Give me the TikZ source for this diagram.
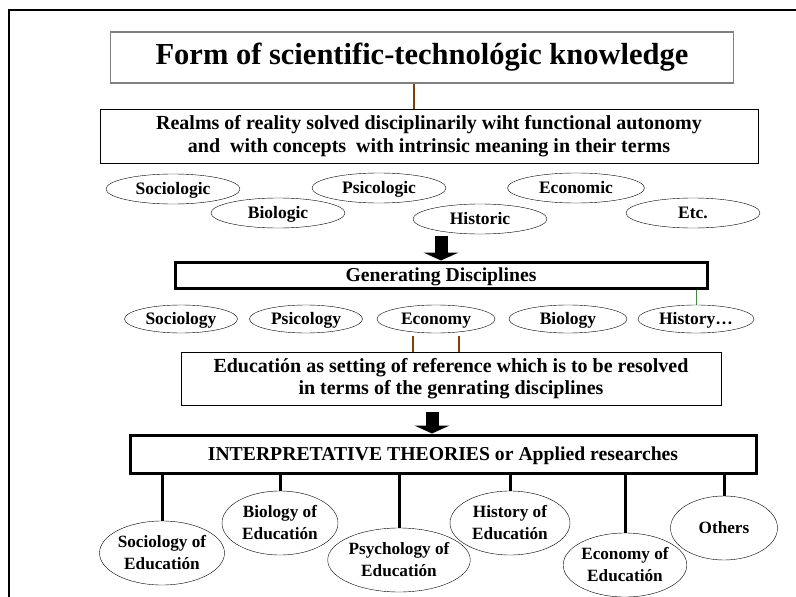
\documentclass[tikz,border=0pt]{standalone}
\usepackage{fontspec}
\setmainfont{Liberation Serif}
\usetikzlibrary{shapes.geometric,arrows.meta}
\definecolor{linkbrown}{RGB}{128,64,0}
\definecolor{linkgreen}{RGB}{60,140,60}
\tikzset{
  realm/.style={draw,ellipse,inner sep=0pt,minimum width=134pt,minimum height=30pt,text height=12pt,text depth=0.5pt,font=\fontsize{17.5}{19}\selectfont\bfseries},
  discipline/.style={draw,ellipse,inner sep=0pt,minimum width=114pt,minimum height=28pt,text height=12pt,text depth=0.5pt,font=\fontsize{17.5}{19}\selectfont\bfseries},
  field/.style={draw,ellipse,inner sep=0pt,minimum width=120pt,minimum height=64pt,align=center,font=\fontsize{17.2}{22}\selectfont\bfseries},
  plainbox/.style={draw,rectangle,inner sep=0pt,align=center,fill=white,font=\fontsize{20}{22.5}\selectfont\bfseries},
  heavybox/.style={draw,rectangle,line width=3pt,inner sep=0pt,text height=13.5pt,text depth=0.5pt,font=\fontsize{19.7}{21}\selectfont\bfseries},
  blockarrow/.style={line width=13pt,-{Triangle[width=35pt,length=8pt]}},
  stem/.style={line width=3pt},
}
\begin{document}
\begin{tikzpicture}[x=1pt,y=-1pt]
  \useasboundingbox (0,0) rectangle (796,597);
  \draw[line width=2pt] (9,597) -- (9,10) -- (796,10);

  \node[plainbox,draw=gray,line width=1.5pt,minimum width=623,minimum height=51,
        font=\fontsize{30.5}{34}\selectfont\bfseries] (title) at (422,57.5)
        {Form of scientific-technológic knowledge};
  \node[plainbox,minimum width=658,minimum height=54] (realms) at (429,136)
        {Realms of reality solved disciplinarily wiht functional autonomy\\
         and\ \ with concepts\ \ with intrinsic meaning in their terms};

  \node[realm] (sociologic) at (173,189) {Sociologic};
  \node[realm] (biologic) at (278,213) {Biologic};
  \node[realm] (psicologic) at (379,188) {Psicologic};
  \node[realm] (historic) at (480,219) {Historic};
  \node[realm,minimum width=137] (economic) at (576,188) {Economic};
  \node[realm] (etc) at (693,213) {Etc.};

  \node[heavybox,minimum width=532,minimum height=26] (gen) at (441,275) {Generating Disciplines};

  \node[discipline,minimum width=113] (sociology) at (181,319) {Sociology};
  \node[discipline,minimum width=113] (psicology) at (306,319) {Psicology};
  \node[discipline,minimum width=118] (economy) at (436,319) {Economy};
  \node[discipline,minimum width=118] (biology) at (568,319) {Biology};
  \node[discipline,minimum width=116] (history) at (696,319) {History…};

  \node[plainbox,minimum width=540,minimum height=53] (edu) at (451,378.5)
        {Educatión as setting of reference which is to be resolved\\
         in terms of the genrating disciplines};

  \node[heavybox,minimum width=626,minimum height=38] (interp) at (443,454)
        {INTERPRETATIVE THEORIES or Applied researches};

  \node[field] (socedu) at (162,553) {Sociology of\\Educatión};
  \node[field,minimum width=116] (bioedu) at (280,523) {Biology of\\Educatión};
  \node[field] (psyedu) at (399,560) {Psychology of\\Educatión};
  \node[field] (hisedu) at (510,523) {History of\\Educatión};
  \node[field,minimum width=116] (ecoedu) at (625,565) {Economy of\\Educatión};
  \node[field,minimum width=107] (others) at (724,528) {Others};

  % connectors
  \draw[linkbrown,line width=2pt] ([xshift=-8pt]title.south) -- ([xshift=-8pt]title.south |- realms.north);
  \draw[blockarrow] ([yshift=25pt]gen.north) -- (gen.north);
  \draw[linkgreen,line width=0.8pt] (history.north |- gen.south) -- (history.north);
  \draw[linkbrown,line width=2pt] ([shift={(-23pt,-3pt)}]economy.south) -- ([xshift=-23pt]economy.south |- edu.north);
  \draw[linkbrown,line width=2pt] ([shift={(23pt,-3pt)}]economy.south) -- ([xshift=23pt]economy.south |- edu.north);
  \draw[blockarrow] ([shift={(-11pt,-7pt)}]edu.south -| interp.north) -- ([xshift=-11pt]interp.north);
  \foreach \f in {socedu,bioedu,psyedu,hisedu,ecoedu,others}
    \draw[stem] (\f.north |- interp.south) -- (\f.north);
\end{tikzpicture}
\end{document}
